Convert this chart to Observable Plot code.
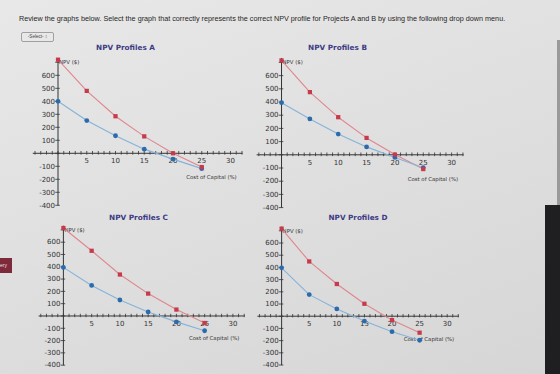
<!DOCTYPE html>
<html>
<head>
<meta charset="utf-8">
<script src="https://cdn.jsdelivr.net/npm/d3@7"></script>
<script src="https://cdn.jsdelivr.net/npm/@observablehq/plot@0.6"></script>
<style>
  html, body { margin: 0; padding: 0; }
  body { width: 560px; height: 374px; overflow: hidden; }
  #page {
    position: relative; width: 560px; height: 374px; overflow: hidden;
    background: linear-gradient(160deg, #e9e8e8 0%, #e1e0e0 45%, #d7d6d7 100%);
    font-family: "DejaVu Sans", sans-serif;
  }
  .abs { position: absolute; white-space: nowrap; }
  #intro { left: 19px; top: 14px; color: #262626; font-family: "Liberation Sans", Arial, sans-serif; }
  #select {
    left: 21px; top: 31.5px; width: 31px; height: 8px; border: 1px solid #a0a0a0; border-radius: 2px;
    background: #e8e8e8; font-family: "Liberation Sans", Arial, sans-serif; font-size: 4.6px; color: #444;
    line-height: 8px; text-align: center;
  }
  .title { color: #3d3b84; font-weight: bold; font-family: "DejaVu Sans", sans-serif; transform: translate(-50%, -50%); }
  .panel { position: absolute; }
</style>
</head>
<body>
<div id="page">
  <div id="intro" class="abs">Review the graphs below. Select the graph that correctly represents the correct NPV profile for Projects A and B by using the following drop down menu.</div>
  <div id="select" class="abs">-Select- ↕</div>
</div>
<script>
// Cost of capital (%) at which each NPV is evaluated
const rates = [0, 5, 10, 15, 20, 25];

// NPV ($) of the two projects, one pair of series per candidate graph
const npvRedA  = [720, 480, 285, 130, 0, -106];
const npvBlueA = [400, 252, 135, 32, -45, -118];
const npvRedB  = [715, 475, 285, 128, 2, -108];
const npvBlueB = [395, 272, 157, 60, -20, -98];
const npvRedC  = [715, 530, 337, 182, 52, -57];
const npvBlueC = [395, 248, 130, 33, -48, -120];
const npvRedD  = [718, 449, 264, 102, -32, -135];
const npvBlueD = [397, 177, 60, -40, -127, -197];

// Axis labels
const panelTitles = ["NPV Profiles A", "NPV Profiles B", "NPV Profiles C", "NPV Profiles D"];
const xTickLabels = [5, 10, 15, 20, 25, 30];
const yTickLabels = [600, 500, 400, 300, 200, 100, -100, -200, -300, -400];
const yAxisLabel = "NPV ($)";
const xAxisLabel = "Cost of Capital (%)";

const page = document.getElementById("page");

// Shrink or grow a text element's font so that it spans the given width
function fitWidth(el, width, start) {
  el.style.fontSize = start + "px";
  const w = el.getBoundingClientRect().width;
  el.style.fontSize = (start * width / w) + "px";
}
fitWidth(document.getElementById("intro"), 487, 7);

const RED_PT = "#c63a4b", RED_LN = "#e0868d";
const BLUE_PT = "#2c6bab", BLUE_LN = "#84b3da";
const AXIS = "#333";

function panel({red, blue, ox, oy, sx, sy, title, tx, ty}) {
  const x0 = -6, x1 = 34, y0 = -430, y1 = 760;
  const width = (x1 - x0) * sx, height = (y1 - y0) * sy / 100;
  const redPts = rates.map((r, i) => ({rate: r, npv: red[i]}));
  const bluePts = rates.map((r, i) => ({rate: r, npv: blue[i]}));
  const yTicks = d3.range(-400, 701, 100);
  const xMinor = d3.range(-4, 33, 1);
  const chart = Plot.plot({
    width, height, margin: 0,
    x: {domain: [x0, x1], axis: null},
    y: {domain: [y0, y1], axis: null},
    style: {overflow: "visible", background: "transparent", fontFamily: "DejaVu Sans, sans-serif", color: AXIS},
    marks: [
      Plot.ruleY([0], {x1: -4.3, x2: 32.2, stroke: AXIS, strokeWidth: 1}),
      Plot.ruleX([0], {y1: -405, y2: 730, stroke: AXIS, strokeWidth: 1}),
      Plot.ruleX(xMinor, {y1: -14, y2: 14, stroke: AXIS, strokeWidth: 0.8}),
      Plot.ruleY(yTicks, {x1: -0.4, x2: 0.4, stroke: AXIS, strokeWidth: 0.8}),
      Plot.text(yTickLabels, {x: 0, y: d => d, text: d => String(d), textAnchor: "end", dx: -3, fontSize: 7, fill: AXIS}),
      Plot.text(xTickLabels, {x: d => d, y: 0, text: d => String(d), dy: 7.5, fontSize: 7, fill: AXIS}),
      Plot.text([yAxisLabel], {x: 0, y: 698, text: d => d, textAnchor: "start", dx: 1, fontSize: 5.4, fill: AXIS}),
      Plot.text([xAxisLabel], {x: 26.7, y: -185, text: d => d, fontSize: 5.4, fill: AXIS}),
      Plot.line(redPts, {x: "rate", y: "npv", stroke: RED_LN, strokeWidth: 1.1}),
      Plot.line(bluePts, {x: "rate", y: "npv", stroke: BLUE_LN, strokeWidth: 1.1}),
      Plot.dot(bluePts, {x: "rate", y: "npv", r: 2.4, fill: BLUE_PT}),
      Plot.dot(redPts, {x: "rate", y: "npv", symbol: "square", r: 2.4, fill: RED_PT})
    ]
  });
  chart.classList.add("panel");
  chart.style.left = (ox + x0 * sx) + "px";
  chart.style.top = (oy - y1 * sy / 100) + "px";
  page.appendChild(chart);

  const t = document.createElement("div");
  t.className = "abs title";
  t.textContent = title;
  t.style.left = tx + "px";
  t.style.top = ty + "px";
  page.appendChild(t);
  fitWidth(t, 59, 8.5);
}

panel({red: npvRedA, blue: npvBlueA, ox: 57.5, oy: 153, sx: 5.75, sy: 13.0, title: panelTitles[0], tx: 125.5, ty: 46.5});
panel({red: npvRedB, blue: npvBlueB, ox: 281.5, oy: 154, sx: 5.67, sy: 13.2, title: panelTitles[1], tx: 337.5, ty: 46.5});
panel({red: npvRedC, blue: npvBlueC, ox: 63, oy: 315.7, sx: 5.65, sy: 12.3, title: panelTitles[2], tx: 138.5, ty: 216.7});
panel({red: npvRedD, blue: npvBlueD, ox: 281, oy: 315.3, sx: 5.52, sy: 12.2, title: panelTitles[3], tx: 358, ty: 217});

// Edges of the surrounding screen: side menu tab on the left, dark bezel on the right
const edges = [
  {l: 0, t: 258, w: 12, h: 15, bg: "#7d2a3a"},
  {l: 557, t: 40, w: 3, h: 165, bg: "#9a9a9c"},
  {l: 545, t: 205, w: 15, h: 169, bg: "#1f1f21"}
];
for (const e of edges) {
  const d = document.createElement("div");
  d.className = "abs";
  Object.assign(d.style, {left: e.l + "px", top: e.t + "px", width: e.w + "px", height: e.h + "px", background: e.bg});
  page.appendChild(d);
}
const tab = document.createElement("div");
tab.className = "abs";
Object.assign(tab.style, {left: "0px", top: "262px", fontSize: "5px", color: "#f3dfe3", fontFamily: "Liberation Sans, Arial, sans-serif"});
tab.textContent = "ery";
page.appendChild(tab);
</script>
</body>
</html>
